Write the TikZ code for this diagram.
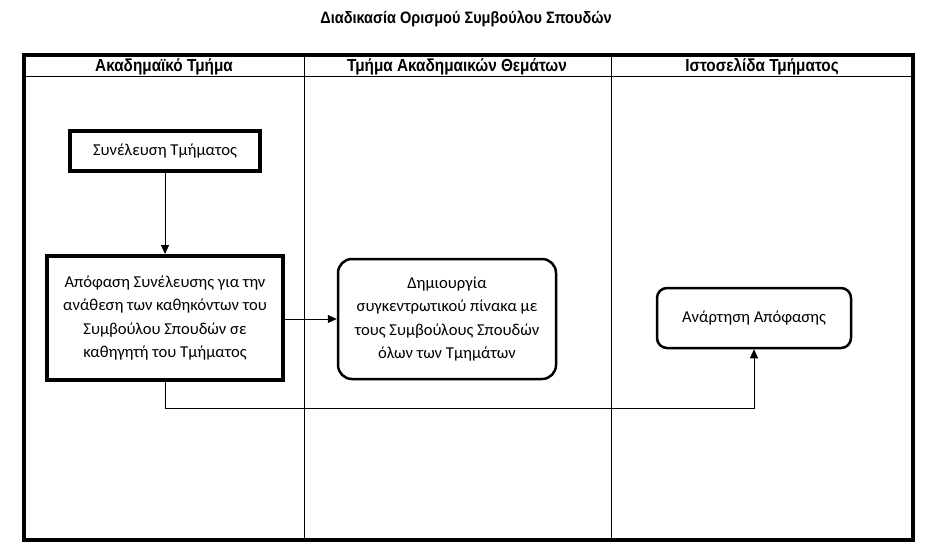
\documentclass[tikz,border=0pt]{standalone}
\usepackage{fontspec}
\setmainfont{Carlito}
\newfontfamily\hdrfont[FakeStretch=0.88]{Liberation Sans}
\usetikzlibrary{arrows.meta}
\begin{document}
\begin{tikzpicture}[x=1pt,y=-1pt,
  boxtext/.style={align=center, inner sep=0pt, font=\fontsize{16.6}{23.2}\selectfont},
  thickbox/.style={boxtext, draw, line width=4pt},
  roundbox/.style={boxtext, draw, line width=2.5pt, rounded corners=#1},
  roundbox/.default=14pt,
  conn/.style={line width=1pt, -{Triangle[length=9pt,width=8pt]}},
  frameline/.style={line width=4pt},
  laneline/.style={line width=0.8pt},
  hdr/.style={font=\hdrfont\bfseries\fontsize{17.4}{19}\selectfont},
  ttl/.style={font=\hdrfont\bfseries\fontsize{16.5}{19}\selectfont}]
\useasboundingbox (0,0) rectangle (931,559);
\fill[white] (0,0) rectangle (931,559);

% title
\node[ttl] (title) at (466,19) {Διαδικασία Ορισμού Συμβούλου Σπουδών};

% pool frame
\draw[laneline] (24,76) -- (913,76);
\draw[laneline] (304,55) -- (304,540);
\draw[laneline] (611,55) -- (611,540);
\draw[frameline] (24,55) rectangle (913,540);

% lane headers
\node[hdr] (h1) at (164,67) {Ακαδημαϊκό Τμήμα};
\node[hdr] (h2) at (457,67) {Τμήμα Ακαδημαικών Θεμάτων};
\node[hdr] (h3) at (762,67) {Ιστοσελίδα Τμήματος};

% boxes
\node[thickbox, minimum width=190pt, minimum height=40pt] (s) at (165,151) {Συνέλευση Τμήματος};
\node[thickbox, minimum width=236pt, minimum height=124pt] (a) at (165,318)
  {Απόφαση Συνέλευσης για την\\ανάθεση των καθηκόντων του\\Συμβούλου Σπουδών σε\\καθηγητή του Τμήματος};
\node[roundbox, minimum width=218pt, minimum height=120pt] (d) at (447,319)
  {Δημιουργία\\συγκεντρωτικού πίνακα με\\τους Συμβούλους Σπουδών\\όλων των Τμημάτων};
\node[roundbox=10pt, minimum width=194pt, minimum height=60pt] (r) at (754,318) {Ανάρτηση Απόφασης};

% connectors
\coordinate (turn) at (165,408);
\draw[conn] (s.south) -- (a.north);
\draw[conn] (a.east |- d.west) -- (d.west);
\draw[conn] (a.south) -- (turn) -| (r.south);
\end{tikzpicture}
\end{document}
